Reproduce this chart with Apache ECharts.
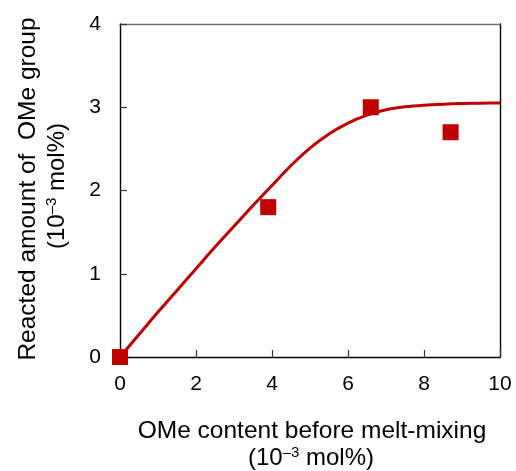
<!DOCTYPE html>
<html>
<head>
<meta charset="utf-8">
<script src="https://cdn.jsdelivr.net/npm/echarts@6/dist/echarts.min.js"></script>
<style>
  html, body { margin: 0; padding: 0; background: #fff; }
  #chart { width: 516px; height: 471px; }
</style>
</head>
<body>
<div id="chart"></div>
<script>
// Measured OMe reaction data (10^-3 mol%)
const omeContent = [0, 3.9, 6.6, 8.7];
const reactedAmount = [0, 1.8, 3.0, 2.7];

// Fitted saturation curve, sampled every 0.5
const fitX = [0, 0.5, 1, 1.5, 2, 2.5, 3, 3.5, 4, 4.5, 5, 5.5, 6, 6.5, 7, 7.5, 8, 8.5, 9, 9.5, 10];
const fitY = [0, 0.27, 0.54, 0.80, 1.06, 1.32, 1.57, 1.82, 2.06, 2.30, 2.51, 2.68, 2.81, 2.905, 2.97, 3.005, 3.025, 3.037, 3.045, 3.049, 3.05];

const xTicks = [0, 2, 4, 6, 8, 10];
const yTicks = [0, 1, 2, 3, 4];

const RED = '#C00000';
const FONT = 'Liberation Sans, Arial, sans-serif';

const chart = echarts.init(document.getElementById('chart'), null, { renderer: 'canvas' });

const superRich = {
  n: { fontSize: 24, fontFamily: FONT, color: '#000', verticalAlign: 'bottom' },
  s: { fontSize: 15, fontFamily: FONT, color: '#000', verticalAlign: 'top', padding: [0, 0, 10, 0] }
};

const option = {
  animation: false,
  backgroundColor: '#fff',
  grid: { left: 120, right: 16, top: 24, bottom: 114 },
  xAxis: [
    {
      type: 'value',
      min: xTicks[0], max: xTicks[xTicks.length - 1], interval: 2,
      axisLine: { show: true, onZero: false, lineStyle: { color: '#000', width: 1.4 } },
      axisTick: { show: true, inside: true, length: 7, lineStyle: { color: '#333', width: 1.2 } },
      axisLabel: { margin: 17, fontSize: 21, color: '#000', fontFamily: FONT },
      splitLine: { show: false }
    },
    {
      type: 'value', position: 'top',
      min: xTicks[0], max: xTicks[xTicks.length - 1],
      axisLine: { show: true, onZero: false, lineStyle: { color: '#707070', width: 1.4 } },
      axisTick: { show: false }, axisLabel: { show: false }, splitLine: { show: false }
    }
  ],
  yAxis: [
    {
      type: 'value',
      min: yTicks[0], max: yTicks[yTicks.length - 1], interval: 1,
      axisLine: { show: true, onZero: false, lineStyle: { color: '#000', width: 1.4 } },
      axisTick: { show: true, inside: true, length: 7, lineStyle: { color: '#333', width: 1.2 } },
      axisLabel: { margin: 19, fontSize: 21, color: '#000', fontFamily: FONT },
      splitLine: { show: false }
    },
    {
      type: 'value', position: 'right',
      min: yTicks[0], max: yTicks[yTicks.length - 1],
      axisLine: { show: true, onZero: false, lineStyle: { color: '#000', width: 1.4 } },
      axisTick: { show: false }, axisLabel: { show: false }, splitLine: { show: false }
    }
  ],
  series: [
    {
      name: 'fit',
      type: 'line',
      data: fitX.map((x, i) => [x, fitY[i]]),
      smooth: 0.3,
      showSymbol: false,
      lineStyle: { color: RED, width: 3 },
      z: 2
    },
    {
      name: 'measured',
      type: 'scatter',
      data: omeContent.map((x, i) => [x, reactedAmount[i]]),
      symbol: 'rect',
      symbolSize: 16,
      itemStyle: { color: RED, opacity: 1 },
      z: 3
    }
  ],
  graphic: [
    {
      type: 'text', x: 312, y: 431,
      style: {
        text: 'OMe content before melt-mixing',
        font: '24.5px ' + FONT, fill: '#000',
        align: 'center', verticalAlign: 'middle'
      }
    },
    {
      type: 'text', x: 311, y: 458,
      style: {
        text: '{n|(10}{s|–3}{n| mol%)}',
        align: 'center', verticalAlign: 'middle',
        rich: superRich
      }
    },
    {
      type: 'text', x: 28, y: 189, rotation: Math.PI / 2,
      style: {
        text: 'Reacted amount of  OMe group',
        font: '24.5px ' + FONT, fill: '#000',
        align: 'center', verticalAlign: 'middle'
      }
    },
    {
      type: 'text', x: 57, y: 186, rotation: Math.PI / 2,
      style: {
        text: '{n|(10}{s|–3}{n| mol%)}',
        align: 'center', verticalAlign: 'middle',
        rich: superRich
      }
    }
  ]
};

chart.setOption(option);
</script>
</body>
</html>
